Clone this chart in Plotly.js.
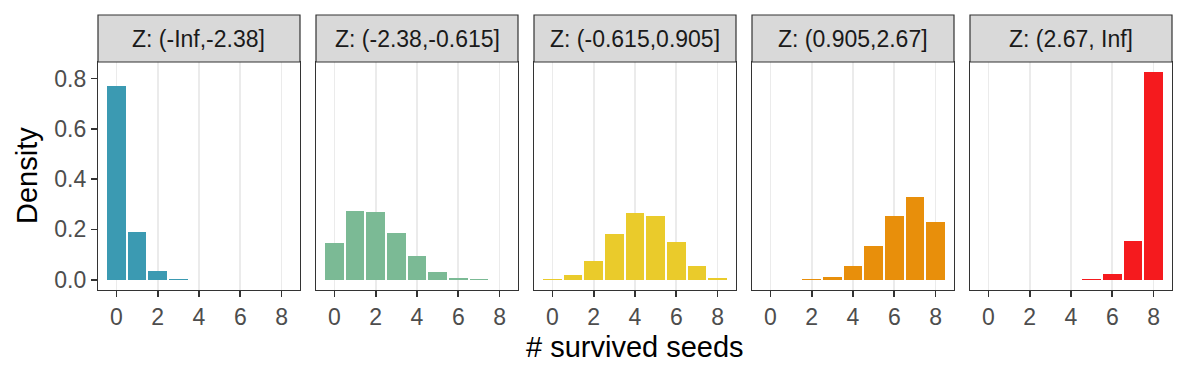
<!DOCTYPE html>
<html>
<head>
<meta charset="utf-8">
<script src="https://cdn.plot.ly/plotly-3.0.1.min.js"></script>
<style>html,body{margin:0;padding:0;background:#fff;}#chart{width:1188px;height:378px;}</style>
</head>
<body>
<div id="chart"></div>
<script>
// ---- data ----
const seeds = [0, 1, 2, 3, 4, 5, 6, 7, 8];
const panelLabels = ["Z: (-Inf,-2.38]", "Z: (-2.38,-0.615]", "Z: (-0.615,0.905]", "Z: (0.905,2.67]", "Z: (2.67, Inf]"];
const density1 = [0.770, 0.189, 0.036, 0.004, 0, 0, 0, 0, 0];
const density2 = [0.146, 0.272, 0.268, 0.186, 0.095, 0.032, 0.008, 0.004, 0];
const density3 = [0.004, 0.020, 0.075, 0.182, 0.264, 0.253, 0.150, 0.053, 0.008];
const density4 = [0, 0, 0.004, 0.012, 0.053, 0.134, 0.253, 0.328, 0.229];
const density5 = [0, 0, 0, 0, 0, 0.004, 0.024, 0.154, 0.825];
const xTicks = [0, 2, 4, 6, 8];
const yTicks = [0, 0.2, 0.4, 0.6, 0.8];
const yTickText = ["0.0", "0.2", "0.4", "0.6", "0.8"];
const xTitle = "# survived seeds";
const yTitle = "Density";

// ---- styling ----
const colors = ["#3B9AB2", "#7BBA95", "#EACB2B", "#E88F0B", "#F51A1E"];
const W = 1188, H = 378;
const panelX = [[98, 300], [316, 518], [534, 736], [752, 954], [970, 1172]];
const plotTop = 62, plotBottom = 290, stripTop = 15;
const font = "Liberation Sans, Arial, sans-serif";
const densities = [density1, density2, density3, density4, density5];

const py = v => 1 - v / H;
const traces = [];
const layout = {
  width: W, height: H,
  margin: {l: 0, r: 0, t: 0, b: 0, pad: 0},
  paper_bgcolor: "#ffffff",
  plot_bgcolor: "#ffffff",
  showlegend: false,
  bargap: 0,
  font: {family: font},
  shapes: [],
  annotations: []
};

densities.forEach((d, i) => {
  const n = i === 0 ? "" : String(i + 1);
  traces.push({
    type: "bar",
    x: seeds, y: d,
    width: 0.9,
    marker: {color: colors[i], line: {width: 0}},
    xaxis: "x" + n, yaxis: "y" + n,
    hoverinfo: "x+y"
  });
  layout["xaxis" + n] = {
    domain: [panelX[i][0] / W, panelX[i][1] / W],
    anchor: "y" + n,
    range: [-0.895, 8.895],
    tickvals: xTicks,
    ticktext: xTicks.map(String),
    ticks: "outside", ticklen: 6, tickwidth: 1.8, tickcolor: "#333333",
    tickfont: {size: 23, color: "#4D4D4D", family: font},
    showgrid: true, gridcolor: "#EBEBEB", gridwidth: 1.8,
    zeroline: false,
    showline: true, mirror: true, linecolor: "#333333", linewidth: 1.2,
    fixedrange: true
  };
  layout["yaxis" + n] = {
    domain: [py(plotBottom), py(plotTop)],
    anchor: "x" + n,
    range: [-0.041, 0.866],
    tickvals: yTicks,
    ticktext: yTickText,
    showticklabels: i === 0,
    ticks: i === 0 ? "outside" : "",
    ticklen: 6, tickwidth: 1.8, tickcolor: "#333333",
    tickfont: {size: 23, color: "#4D4D4D", family: font},
    showgrid: false,
    zeroline: false,
    showline: true, mirror: true, linecolor: "#333333", linewidth: 1.2,
    fixedrange: true
  };
  layout.shapes.push({
    type: "rect", xref: "paper", yref: "paper",
    x0: panelX[i][0] / W, x1: panelX[i][1] / W,
    y0: py(plotTop), y1: py(stripTop),
    fillcolor: "#D9D9D9",
    line: {color: "#333333", width: 1.2},
    layer: "above"
  });
  layout.annotations.push({
    xref: "paper", yref: "paper",
    x: (panelX[i][0] + panelX[i][1]) / 2 / W,
    y: py((plotTop + stripTop) / 2),
    text: panelLabels[i],
    showarrow: false,
    xanchor: "center", yanchor: "middle",
    font: {size: 23, color: "#1A1A1A", family: font}
  });
});

layout.annotations.push({
  xref: "paper", yref: "paper",
  x: (panelX[0][0] + panelX[4][1]) / 2 / W, y: py(347),
  text: xTitle, showarrow: false,
  xanchor: "center", yanchor: "middle",
  font: {size: 29, color: "#000000", family: font}
});
layout.annotations.push({
  xref: "paper", yref: "paper",
  x: 27 / W, y: py((plotTop + plotBottom) / 2),
  text: yTitle, showarrow: false, textangle: -90,
  xanchor: "center", yanchor: "middle",
  font: {size: 29, color: "#000000", family: font}
});

Plotly.newPlot("chart", traces, layout, {displayModeBar: false, staticPlot: true});
</script>
</body>
</html>
